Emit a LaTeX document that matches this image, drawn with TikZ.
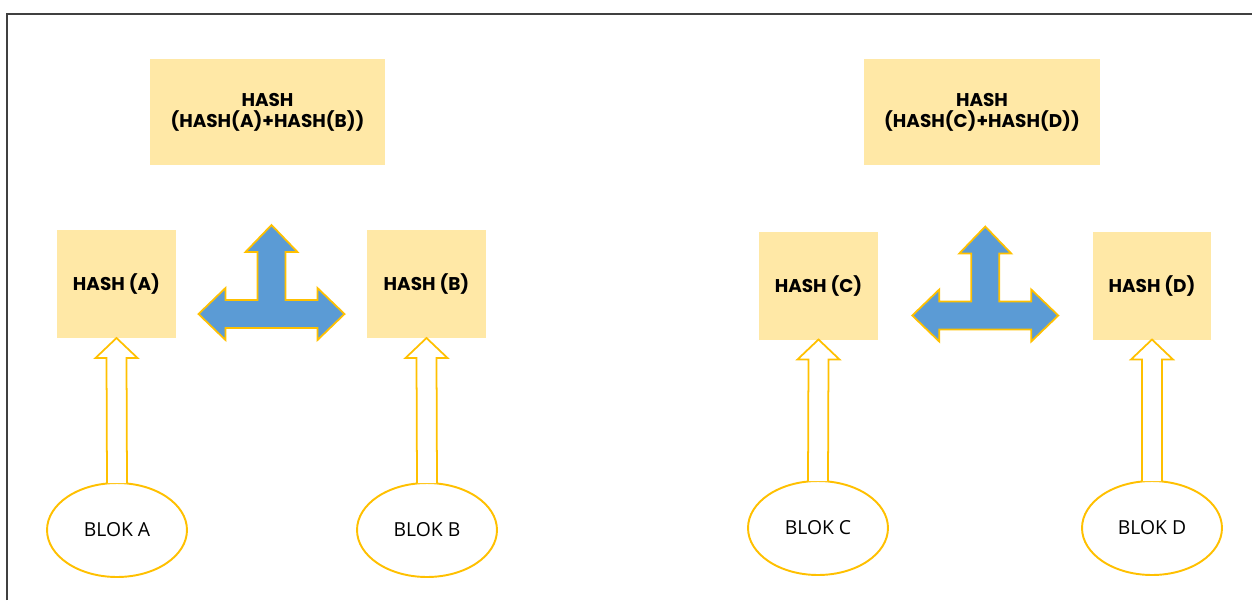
\documentclass[tikz,border=0pt]{standalone}
\usepackage{fontspec}
\setmainfont{Open Sans}
\newfontfamily\hashfont{Poppins}
\usetikzlibrary{calc,positioning,shapes.geometric}
\definecolor{hashfill}{HTML}{FFE8A6}
\definecolor{gold}{HTML}{FFC000}
\definecolor{teeblue}{HTML}{5B9BD5}
\definecolor{framegray}{HTML}{404040}
\tikzset{>=stealth}

% hollow arrow from a block up to its hash
\newcommand{\hollowup}[2]{%
	\draw[hollow] ($(#1.north)+(-10,0)$) -- ($(#2.south)+(-10,20)$)
		-- ($(#2.south)+(-21,20)$) -- (#2.south) -- ($(#2.south)+(21,20)$)
		-- ($(#2.south)+(10,20)$) -- ($(#1.north)+(10,0)$);
}
% blue three-way arrow
\newcommand{\teearrow}[1]{%
	\draw[tee,shift={(#1)}] (0,-89) -- (26,-62) -- (14,-62) -- (14,-14)
		-- (46,-14) -- (46,-26) -- (73,0) -- (46,26) -- (46,14)
		-- (-46,14) -- (-46,26) -- (-73,0) -- (-46,-26) -- (-46,-14)
		-- (-14,-14) -- (-14,-62) -- (-26,-62) -- cycle;
}

\begin{document}
\begin{tikzpicture}
	[x=0.02cm,y=-0.02cm,
	hashbox/.style={fill=hashfill,outer sep=0pt,inner sep=0pt,align=center,
		font=\hashfont\bfseries\fontsize{10.5}{12}\selectfont},
	small/.style={hashbox,minimum width=2.38cm,minimum height=2.16cm},
	big/.style={hashbox,minimum width=4.72cm,minimum height=2.14cm},
	blok/.style={ellipse,draw=gold,line width=1.1pt,fill=white,outer sep=0pt,
		minimum width=2.8cm,minimum height=1.88cm,font=\fontsize{11}{13}\selectfont},
	hollow/.style={draw=gold,line width=1pt,fill=white,line join=miter},
	tee/.style={draw=gold,line width=1pt,fill=teeblue,line join=miter}]
	\useasboundingbox (0,0) rectangle (1252,600);
	\draw[framegray,line width=0.9pt] (7,600) -- (7,14) -- (1252,14);

	\node [big] (hAB) at (267.5,112) {HASH\\(HASH(A)+HASH(B))};
	\node [big] (hCD) at (982,112) {HASH\\(HASH(C)+HASH(D))};

	\node [small] (hA) at (116.5,284) {HASH (A)};
	\node [small] (hB) at (426.5,284) {HASH (B)};
	\node [small] (hC) at (818.5,285.5) {HASH (C)};
	\node [small] (hD) at (1152,285.5) {HASH (D)};

	\node [blok] (bA) at (117,530) {BLOK A};
	\node [blok] (bB) at (427,530) {BLOK B};
	\node [blok] (bC) at (818,528) {BLOK C};
	\node [blok] (bD) at (1152,528) {BLOK D};

	\hollowup{bA}{hA}
	\hollowup{bB}{hB}
	\hollowup{bC}{hC}
	\hollowup{bD}{hD}

	\coordinate (tAB) at ($(hA.east)!0.5!(hB.west)+(0,30)$);
	\coordinate (tCD) at ($(hC.east)!0.5!(hD.west)+(0,30)$);
	\teearrow{tAB}
	\teearrow{tCD}
\end{tikzpicture}
\end{document}
